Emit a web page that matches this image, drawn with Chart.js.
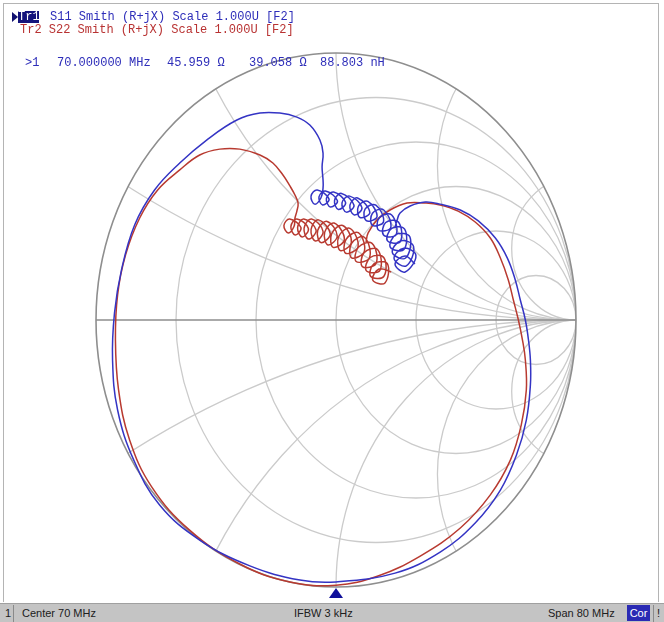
<!DOCTYPE html>
<html>
<head>
<meta charset="utf-8">
<script src="https://cdn.jsdelivr.net/npm/chart.js@4.4.1/dist/chart.umd.min.js"></script>
<style>
  html, body { margin: 0; padding: 0; background: #fff; }
  #wrap { position: relative; width: 664px; height: 622px; overflow: hidden; }
  #c { position: absolute; left: 0; top: 0; }
  .t { position: absolute; white-space: pre; font: 12px "Liberation Mono", "DejaVu Sans Mono", monospace; line-height: 12px; }
  .blue { color: #2d2db9; }
  .red { color: #b83232; }
  #frame { position: absolute; left: 3px; top: 3px; width: 654px; height: 598px; border: 1px solid #b4b4b4; border-bottom: none; }
  #arrow { position: absolute; left: 12px; top: 12px; width: 0; height: 0;
           border-top: 5px solid transparent; border-bottom: 5px solid transparent; border-left: 6px solid #101070; }
  #tr1 { position: absolute; left: 18px; top: 11px; width: 21px; height: 12px; background: #14147c; color: #fff; }
  #bar { position: absolute; left: 0; top: 603px; width: 664px; height: 19px; background: #c4c4c4; border-top: 1px solid #a0a0a0; }
  .s { position: absolute; top: 3px; font: 11px "Liberation Sans", Arial, sans-serif; color: #202020; white-space: pre; line-height: 13px; }
  .sep { position: absolute; top: 1px; width: 1px; height: 17px; background: #8a8a8a; }
  #cor { position: absolute; left: 627px; top: 1px; width: 23px; height: 16px; background: #2a2ab4; color: #fff; font: 11px "Liberation Sans", Arial, sans-serif; line-height: 16px; text-align: center; }
  #mk { position: absolute; left: 329px; top: 588px; width: 0; height: 0;
        border-left: 7px solid transparent; border-right: 7px solid transparent; border-bottom: 10px solid #10109a; }
</style>
</head>
<body>
<div id="wrap">
  <div id="frame"></div>
  <canvas id="c" width="664" height="622"></canvas>
  <div id="arrow"></div>
  <div id="tr1" class="t">Tr1</div>
  <div class="t blue" style="left:50px;top:11px">S11 Smith (R+jX) Scale 1.000U [F2]</div>
  <div class="t red" style="left:20px;top:24px">Tr2 S22 Smith (R+jX) Scale 1.000U [F2]</div>
  <div class="t blue" style="left:25px;top:57px">&gt;1</div>
  <div class="t blue" style="left:57px;top:57px">70.000000 MHz</div>
  <div class="t blue" style="left:167px;top:57px">45.959 Ω</div>
  <div class="t blue" style="left:249px;top:57px">39.058 Ω</div>
  <div class="t blue" style="left:320px;top:57px">88.803 nH</div>
  <div id="mk"></div>
  <div id="bar">
    <div class="s" style="left:5px">1</div>
    <div class="sep" style="left:13px"></div>
    <div class="s" style="left:22px">Center 70 MHz</div>
    <div class="s" style="left:294px">IFBW 3 kHz</div>
    <div class="s" style="left:548px">Span 80 MHz</div>
    <div id="cor">Cor</div>
    <div class="sep" style="left:653px"></div>
    <div class="s" style="left:657px">!</div>
  </div>
</div>
<script>
// Smith chart grid: resistance circles cross the real axis every 1/3,
// reactance arcs meet the rim every 30 degrees
const resistanceCircles = [0.2, 0.5, 1, 2, 5];
const reactanceArcs = [0.268, 0.577, 1, 1.732, 3.732];

// S11 reflection coefficient trace, [real, imaginary]
const s11 = [
  [0.329,0.210],[0.288,0.240],[0.246,0.210],[0.288,0.180],
  [0.333,0.242],[0.282,0.269],[0.242,0.230],[0.293,0.203],
  [0.323,0.276],[0.268,0.296],[0.235,0.252],[0.290,0.232],
  [0.308,0.311],[0.251,0.321],[0.226,0.273],[0.283,0.264],
  [0.286,0.340],[0.232,0.343],[0.214,0.297],[0.268,0.294],
  [0.260,0.367],[0.207,0.365],[0.198,0.318],[0.251,0.320],
  [0.232,0.393],[0.181,0.384],[0.177,0.337],[0.228,0.346],
  [0.199,0.412],[0.152,0.400],[0.151,0.355],[0.198,0.368],
  [0.166,0.430],[0.121,0.415],[0.126,0.372],[0.171,0.387],
  [0.133,0.444],[0.093,0.425],[0.100,0.384],[0.141,0.403],
  [0.090,0.457],[0.058,0.430],[0.076,0.393],[0.108,0.421],
  [0.057,0.464],[0.025,0.439],[0.043,0.404],[0.075,0.430],
  [0.023,0.474],[-0.006,0.448],[0.010,0.414],[0.040,0.440],
  [-0.010,0.479],[-0.040,0.455],[-0.023,0.423],[0.006,0.447],
  [-0.044,0.483],[-0.071,0.461],[-0.056,0.431],[-0.029,0.453],
  [-0.078,0.487],[-0.104,0.464],[-0.089,0.434],[-0.063,0.457],
  [-0.054,0.494],[-0.054,0.524],[-0.058,0.573],[-0.054,0.625],[-0.067,0.674],
  [-0.109,0.730],[-0.163,0.760],[-0.234,0.775],[-0.317,0.775],[-0.413,0.749],
  [-0.539,0.674],[-0.651,0.588],[-0.756,0.487],[-0.839,0.356],[-0.894,0.187],
  [-0.923,0.026],[-0.931,-0.150],[-0.910,-0.337],[-0.843,-0.524],[-0.735,-0.693],
  [-0.568,-0.824],[-0.359,-0.921],[-0.150,-0.974],[0,-0.981],[0.246,-0.948],
  [0.434,-0.869],[0.580,-0.760],[0.685,-0.637],[0.752,-0.506],[0.793,-0.375],
  [0.810,-0.243],[0.810,-0.150],[0.802,-0.075],[0.789,0],[0.768,0.075],
  [0.747,0.150],[0.714,0.232],[0.664,0.307],[0.593,0.371],[0.518,0.412],
  [0.434,0.434],[0.372,0.442],[0.309,0.427],[0.267,0.401],[0.255,0.375],[0.246,0.348]
];

// S22 reflection coefficient trace, [real, imaginary]
const s22 = [
  [0.230,0.180],[0.179,0.191],[0.153,0.150],[0.204,0.139],
  [0.214,0.211],[0.159,0.211],[0.144,0.164],[0.199,0.163],
  [0.199,0.234],[0.143,0.234],[0.126,0.185],[0.183,0.186],
  [0.173,0.264],[0.117,0.252],[0.110,0.200],[0.167,0.212],
  [0.150,0.287],[0.093,0.272],[0.084,0.219],[0.140,0.234],
  [0.118,0.310],[0.065,0.287],[0.065,0.233],[0.118,0.257],
  [0.093,0.327],[0.042,0.302],[0.040,0.250],[0.092,0.275],
  [0.058,0.343],[0.011,0.312],[0.018,0.260],[0.064,0.291],
  [0.028,0.354],[-0.018,0.323],[-0.012,0.272],[0.035,0.302],
  [-0.008,0.363],[-0.047,0.329],[-0.034,0.281],[0.005,0.315],
  [-0.037,0.369],[-0.076,0.336],[-0.063,0.290],[-0.024,0.323],
  [-0.073,0.375],[-0.104,0.339],[-0.086,0.296],[-0.054,0.332],
  [-0.102,0.378],[-0.133,0.344],[-0.115,0.303],[-0.083,0.337],
  [-0.134,0.378],[-0.160,0.346],[-0.141,0.311],[-0.115,0.343],
  [-0.163,0.378],[-0.188,0.350],[-0.170,0.318],[-0.146,0.346],
  [-0.193,0.378],[-0.217,0.354],[-0.199,0.326],[-0.175,0.350],
  [-0.171,0.382],[-0.163,0.408],[-0.158,0.438],[-0.171,0.468],[-0.192,0.502],
  [-0.221,0.543],[-0.263,0.588],[-0.317,0.618],[-0.401,0.640],[-0.484,0.640],
  [-0.568,0.618],[-0.651,0.562],[-0.743,0.487],[-0.818,0.382],[-0.877,0.243],
  [-0.910,0.094],[-0.919,-0.075],[-0.906,-0.262],[-0.860,-0.449],[-0.768,-0.625],
  [-0.610,-0.787],[-0.401,-0.914],[-0.192,-0.981],[0,-0.993],[0.175,-0.959],
  [0.351,-0.884],[0.518,-0.779],[0.643,-0.655],[0.727,-0.524],[0.772,-0.393],
  [0.793,-0.262],[0.789,-0.150],[0.777,-0.075],[0.760,0],[0.739,0.075],
  [0.718,0.150],[0.685,0.232],[0.643,0.307],[0.580,0.367],[0.509,0.408],
  [0.434,0.431],[0.372,0.438],[0.296,0.438],[0.225,0.412],[0.171,0.375],
  [0.134,0.326],[0.125,0.292]
];

const toXY = arr => arr.map(([re, im]) => ({ x: re, y: im }));

// Draws the Smith chart grid behind the traces
const smithGrid = {
  id: 'smithGrid',
  beforeDatasetsDraw(chart) {
    const { ctx, scales: { x: sx, y: sy } } = chart;
    const cx = sx.getPixelForValue(0), cy = sy.getPixelForValue(0);
    const kx = sx.getPixelForValue(1) - cx, ky = cy - sy.getPixelForValue(1);
    const circle = (a, b, r) => {
      ctx.beginPath();
      ctx.ellipse(cx + a * kx, cy - b * ky, Math.abs(r) * kx, Math.abs(r) * ky, 0, 0, Math.PI * 2);
    };
    ctx.save();
    ctx.beginPath();
    ctx.ellipse(cx, cy, kx, ky, 0, 0, Math.PI * 2);
    ctx.clip();
    ctx.strokeStyle = '#cbcbcb';
    ctx.lineWidth = 1.3;
    resistanceCircles.forEach(r => { circle(r / (1 + r), 0, 1 / (1 + r)); ctx.stroke(); });
    reactanceArcs.forEach(x => {
      circle(1, 1 / x, 1 / x); ctx.stroke();
      circle(1, -1 / x, 1 / x); ctx.stroke();
    });
    ctx.restore();

    ctx.save();
    ctx.strokeStyle = '#8e8e8e';
    ctx.lineWidth = 1.6;
    circle(0, 0, 1); ctx.stroke();
    ctx.beginPath();
    ctx.moveTo(cx - kx, cy); ctx.lineTo(cx + kx, cy);
    ctx.stroke();
    ctx.restore();
  }
};

new Chart(document.getElementById('c'), {
  type: 'scatter',
  data: {
    datasets: [
      { label: 'S11', data: toXY(s11), showLine: true, borderColor: '#3434c4', borderWidth: 1.5,
        pointRadius: 0, tension: 0.4, fill: false },
      { label: 'S22', data: toXY(s22), showLine: true, borderColor: '#b83a30', borderWidth: 1.5,
        pointRadius: 0, tension: 0.4, fill: false }
    ]
  },
  options: {
    responsive: false,
    animation: false,
    events: [],
    layout: { padding: { left: 96, right: 88, top: 53, bottom: 35 } },
    scales: {
      x: { type: 'linear', min: -1, max: 1, display: false },
      y: { type: 'linear', min: -1, max: 1, display: false }
    },
    plugins: { legend: { display: false }, tooltip: { enabled: false } }
  },
  plugins: [smithGrid]
});
</script>
</body>
</html>
